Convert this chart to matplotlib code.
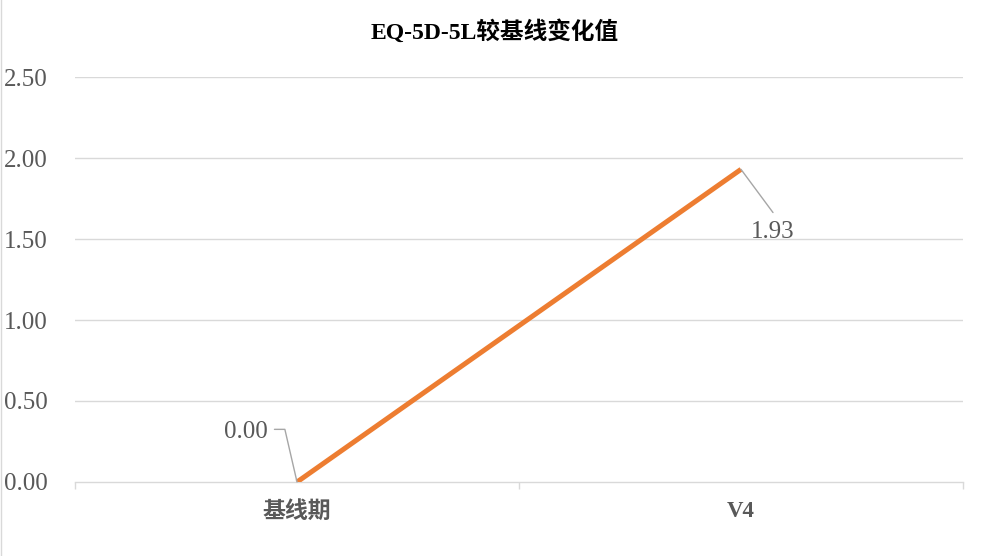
import matplotlib.pyplot as plt
from matplotlib.lines import Line2D

plt.rcParams['font.family'] = ['Liberation Serif', 'Noto Sans CJK SC']

categories = ['基线期', 'V4']
values = [0.00, 1.93]
yticks = [0.0, 0.5, 1.0, 1.5, 2.0, 2.5]

fig = plt.figure(figsize=(9.9, 5.56), dpi=100)
ax = fig.add_axes([0.0758, 0.1331, 0.8969, 0.7284])

grid_c = '#D9D9D9'
text_c = '#595959'

x = list(range(len(categories)))
ax.plot(x, values, color='#ED7D31', linewidth=3.6, solid_capstyle='butt', zorder=3)

ax.set_xlim(-0.5, len(categories) - 0.5)
ax.set_ylim(0, 2.5)
ax.set_yticks(yticks)
ax.set_yticklabels([f'{v:.2f}' for v in yticks], fontsize=18, color=text_c)
ax.tick_params(axis='y', length=0, pad=19.5)
for v in yticks[1:]:
    ax.axhline(v, color=grid_c, linewidth=1, zorder=1)

# category labels and boundary ticks
ax.set_xticks([-0.5, 0.5, 1.5])
ax.set_xticklabels([])
ax.tick_params(axis='x', length=5, color=grid_c, width=1)
for xi, lab in zip(x, categories):
    ax.text(xi, -0.115, lab, ha='center', va='top', fontsize=16.5,
            fontweight='bold', color=text_c)

for s in ['top', 'right', 'left']:
    ax.spines[s].set_visible(False)
ax.spines['bottom'].set_color(grid_c)
ax.spines['bottom'].set_linewidth(1)

# data labels with leader lines
lc = '#A6A6A6'
ax.annotate(f'{values[0]:.2f}', xy=(x[0], values[0]), xytext=(-51, 50), textcoords='offset pixels',
            fontsize=18, color=text_c, ha='center', va='center',
            arrowprops=dict(arrowstyle='-', color=lc, lw=1, shrinkA=0, shrinkB=0,
                            connectionstyle='angle,angleA=0,angleB=103,rad=0',
                            relpos=(1.15, 0.62)))
ax.annotate(f'{values[1]:.2f}', xy=(x[1], values[1]), xytext=(32, -63), textcoords='offset pixels',
            fontsize=18, color=text_c, ha='center', va='center',
            arrowprops=dict(arrowstyle='-', color=lc, lw=1, shrinkA=0, shrinkB=0,
                            relpos=(0.5, 1.4)))

fig.text(0.5, 0.942, 'EQ-5D-5L较基线变化值', ha='center', va='center',
         fontsize=17, fontweight='bold', color='black')

fig.add_artist(Line2D([0.001, 0.001], [0, 1], transform=fig.transFigure, color=grid_c, lw=1))

fig.savefig('out.png', dpi=100)
